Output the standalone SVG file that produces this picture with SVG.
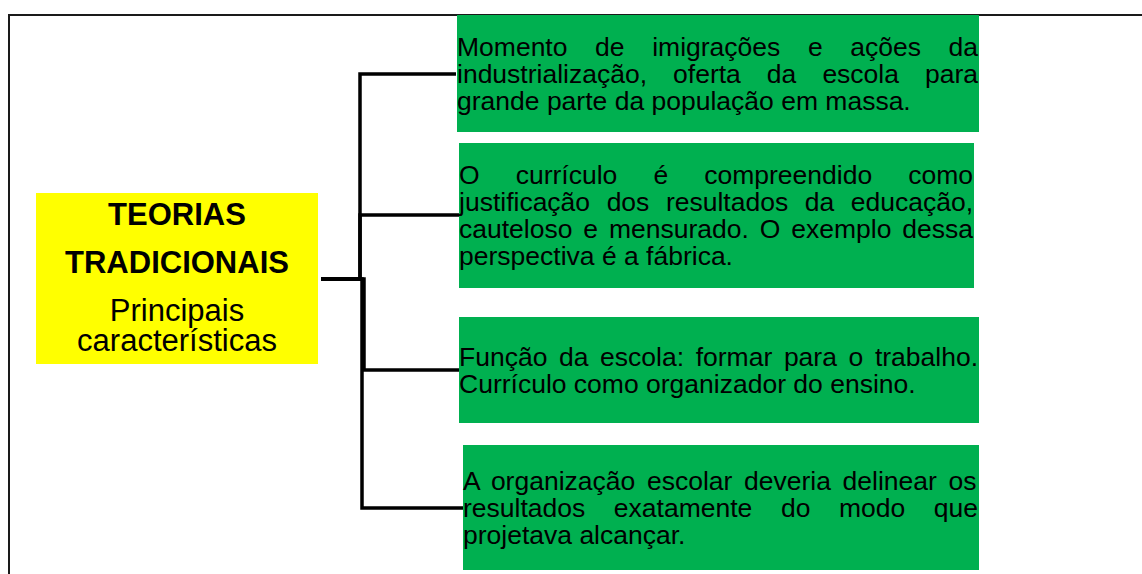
<svg xmlns="http://www.w3.org/2000/svg" width="1142" height="574" viewBox="0 0 1142 574">
<style>
.frame{fill:none;stroke:#1a1a1a;stroke-width:2}
.conn{fill:none;stroke:#000;stroke-width:3.5;stroke-linejoin:miter}
.green{fill:#00B050}
.yellow{fill:#FFFF00}
.t{font-family:"Liberation Sans",Arial,sans-serif;font-size:26.5px;fill:#000}
.h{font-family:"Liberation Sans",Arial,sans-serif;font-size:31px;fill:#000;text-anchor:middle}
.b{font-weight:bold}
</style>
<rect x="0" y="0" width="1142" height="574" fill="#fff"/>
<path class="frame" d="M9,574 V15 H1142"/>
<g id="connectors">
<path class="conn" d="M321,279 H360 V74 H456"/>
<path class="conn" d="M321,279 H360 V215 H459"/>
<path class="conn" d="M321,279 H364 V370 H459"/>
<path class="conn" d="M321,279 H362 V508 H463"/>
</g>
<g id="node-main">
<rect class="yellow" x="36" y="193" width="282" height="171"/>
<text class="h b" x="177" y="225">TEORIAS</text>
<text class="h b" x="177" y="273">TRADICIONAIS</text>
<text class="h" x="177" y="321">Principais</text>
<text class="h" x="177" y="351">características</text>
</g>
<g id="node-1">
<rect class="green" x="457" y="15" width="522" height="117"/>
<text class="t" x="457" y="56" word-spacing="20.25">Momento de imigrações e ações da</text>
<text class="t" x="457" y="83" word-spacing="18.68">industrialização, oferta da escola para</text>
<text class="t" x="457" y="110">grande parte da população em massa.</text>
</g>
<g id="node-2">
<rect class="green" x="459" y="143" width="515" height="145"/>
<text class="t" x="459" y="184" word-spacing="28.73">O currículo é compreendido como</text>
<text class="t" x="459" y="211" word-spacing="9.18">justificação dos resultados da educação,</text>
<text class="t" x="459" y="238" word-spacing="3.53">cauteloso e mensurado. O exemplo dessa</text>
<text class="t" x="459" y="265">perspectiva é a fábrica.</text>
</g>
<g id="node-3">
<rect class="green" x="459" y="317" width="520" height="106"/>
<text class="t" x="459" y="366" word-spacing="4.26">Função da escola: formar para o trabalho.</text>
<text class="t" x="459" y="393">Currículo como organizador do ensino.</text>
</g>
<g id="node-4">
<rect class="green" x="463" y="445" width="516" height="125"/>
<text class="t" x="463" y="490" word-spacing="4.31">A organização escolar deveria delinear os</text>
<text class="t" x="463" y="517" word-spacing="21.21">resultados exatamente do modo que</text>
<text class="t" x="463" y="544">projetava alcançar.</text>
</g>
</svg>
